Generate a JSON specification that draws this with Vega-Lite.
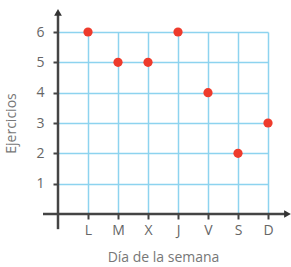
{
  "$schema": "https://vega.github.io/schema/vega-lite/v6.json",
  "width": 210,
  "height": 182,
  "padding": {"left": 4, "top": 8, "right": 0, "bottom": 0},
  "background": "white",
  "config": {
    "view": {"stroke": null}, "font": "Open Sans",
    "axis": {"labelOverlap": false, "labelBound": false, "labelFlush": false, "domain": false, "grid": true,
      "gridColor": "#8dd3ef", "gridWidth": 1.5, "gridOpacity": 1, "tickColor": "#444", "tickSize": 5, "tickWidth": 2,
      "labelFontSize": 14, "labelColor": "#666", "titleFontSize": 14, "titleFontWeight": "normal", "titleColor": "#777"},
    "axisX": {"labelPadding": 4, "titlePadding": 13},
    "axisY": {"labelPadding": 9, "titlePadding": 17}
  },
  "data": {"values": [
    {"dia": "L", "orden": 1, "ejercicios": 6},
    {"dia": "M", "orden": 2, "ejercicios": 5},
    {"dia": "X", "orden": 3, "ejercicios": 5},
    {"dia": "J", "orden": 4, "ejercicios": 6},
    {"dia": "V", "orden": 5, "ejercicios": 4},
    {"dia": "S", "orden": 6, "ejercicios": 2},
    {"dia": "D", "orden": 7, "ejercicios": 3}
  ]},
  "layer": [
    {
      "mark": {"type": "point", "filled": true, "color": "#ee3b2c", "size": 85, "opacity": 1},
      "encoding": {
        "x": {"field": "orden", "type": "quantitative",
          "scale": {"domain": [0, 7], "nice": false, "zero": false},
          "axis": {"values": [1,2,3,4,5,6,7], "labelExpr": "['','L','M','X','J','V','S','D'][datum.value]", "title": "Día de la semana"}},
        "y": {"field": "ejercicios", "type": "quantitative",
          "scale": {"domain": [0, 6], "nice": false, "zero": false},
          "axis": {"values": [1,2,3,4,5,6], "title": "Ejercicios"}}
      }
    },
    {
      "data": {"values": [{}]},
      "mark": {"type": "rule", "color": "#444", "strokeWidth": 2.5},
      "encoding": {
        "x": {"datum": 0, "axis": {"values": [1,2,3,4,5,6,7], "labelExpr": "['','L','M','X','J','V','S','D'][datum.value]", "title": "Día de la semana"}},
        "y": {"datum": -0.5, "axis": {"values": [1,2,3,4,5,6], "title": "Ejercicios"}},
        "y2": {"datum": 6.6}}
    },
    {
      "data": {"values": [{}]},
      "mark": {"type": "rule", "color": "#444", "strokeWidth": 2.5},
      "encoding": {
        "y": {"datum": 0, "axis": {"values": [1,2,3,4,5,6], "title": "Ejercicios"}},
        "x": {"datum": -0.5, "axis": {"values": [1,2,3,4,5,6,7], "labelExpr": "['','L','M','X','J','V','S','D'][datum.value]", "title": "Día de la semana"}},
        "x2": {"datum": 7.6}}
    },
    {
      "data": {"values": [{}]},
      "mark": {"type": "point", "shape": "triangle-up", "filled": true, "color": "#333", "size": 60, "opacity": 1},
      "encoding": {
        "x": {"datum": 0, "axis": {"values": [1,2,3,4,5,6,7], "labelExpr": "['','L','M','X','J','V','S','D'][datum.value]", "title": "Día de la semana"}},
        "y": {"datum": 6.65, "axis": {"values": [1,2,3,4,5,6], "title": "Ejercicios"}}}
    },
    {
      "data": {"values": [{}]},
      "mark": {"type": "point", "shape": "triangle-right", "filled": true, "color": "#333", "size": 60, "opacity": 1},
      "encoding": {
        "y": {"datum": 0, "axis": {"values": [1,2,3,4,5,6], "title": "Ejercicios"}},
        "x": {"datum": 7.65, "axis": {"values": [1,2,3,4,5,6,7], "labelExpr": "['','L','M','X','J','V','S','D'][datum.value]", "title": "Día de la semana"}}}
    }
  ]
}
